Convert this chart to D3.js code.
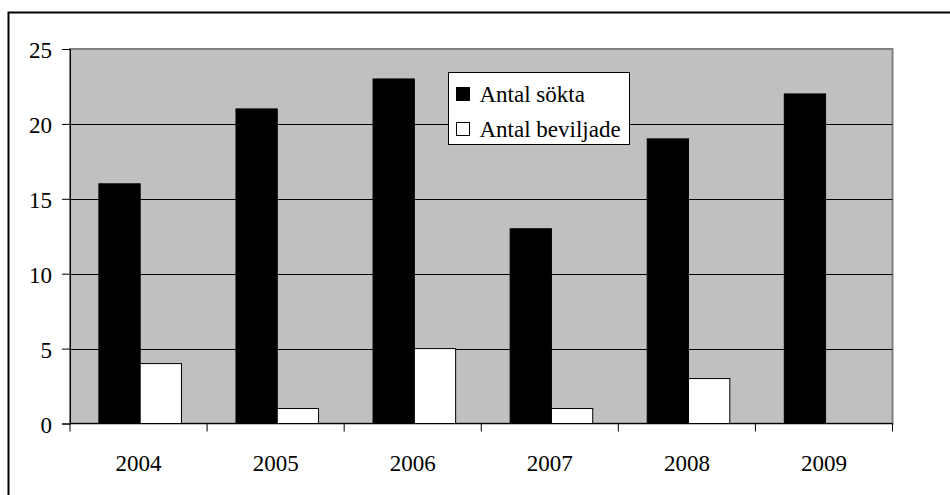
<!DOCTYPE html>
<meta charset="utf-8">
<style>
  body { margin: 0; background: #fff; }
</style>
<body>
<script src="https://d3js.org/d3.v7.min.js"></script>
<script>
var years = ['2004', '2005', '2006', '2007', '2008', '2009'];
var sokta = [16, 21, 23, 13, 19, 22];
var beviljade = [4, 1, 5, 1, 3, 0];
var seriesNames = ['Antal sökta', 'Antal beviljade'];
var seriesColors = ['#000000', '#ffffff'];
var yTicks = [0, 5, 10, 15, 20, 25];

var width = 950, height = 495;
var plot = {left: 70, right: 892.5, top: 49, bottom: 423.5};
var serif = "'Liberation Serif'";
var fontSize = 23;

var svg = d3.select('body').append('svg')
    .attr('width', width)
    .attr('height', height);

// outer frame
svg.append('rect')
    .attr('x', 8.5).attr('y', 12.5)
    .attr('width', width + 10).attr('height', height + 10)
    .attr('fill', '#fff')
    .attr('stroke', '#000')
    .attr('stroke-width', 2);

var x = d3.scaleBand()
    .domain(years)
    .range([plot.left, plot.right]);

var x1 = d3.scaleBand()
    .domain(seriesNames)
    .range([0, x.bandwidth()])
    .paddingOuter(0.66)
    .paddingInner(0)
    .align(0.53);

var y = d3.scaleLinear()
    .domain([0, 25])
    .range([plot.bottom, plot.top]);

// plot area
svg.append('rect')
    .attr('x', plot.left).attr('y', plot.top)
    .attr('width', plot.right - plot.left).attr('height', plot.bottom - plot.top)
    .attr('fill', '#c0c0c0')
    .attr('stroke', '#808080')
    .attr('stroke-width', 2);

// gridlines
svg.append('g')
    .selectAll('line')
    .data(yTicks.slice(1, -1))
    .enter().append('line')
    .attr('x1', plot.left).attr('x2', plot.right)
    .attr('y1', function (d) { return Math.round(y(d)) + 0.5; })
    .attr('y2', function (d) { return Math.round(y(d)) + 0.5; })
    .attr('stroke', '#000')
    .attr('stroke-width', 1);

// bars
var data = years.map(function (yr, i) {
    return {year: yr, values: [sokta[i], beviljade[i]]};
});

var groups = svg.append('g')
    .selectAll('g')
    .data(data)
    .enter().append('g')
    .attr('transform', function (d) { return 'translate(' + x(d.year) + ',0)'; });

groups.selectAll('rect')
    .data(function (d) {
        return d.values.map(function (v, j) { return {name: seriesNames[j], value: v, color: seriesColors[j]}; });
    })
    .enter().append('rect')
    .filter(function (d) { return d.value > 0; })
    .attr('x', function (d) { return x1(d.name); })
    .attr('y', function (d) { return y(d.value); })
    .attr('width', x1.bandwidth())
    .attr('height', function (d) { return y(0) - y(d.value); })
    .attr('fill', function (d) { return d.color; })
    .attr('stroke', '#000')
    .attr('stroke-width', 1);

// y axis
var yAxis = svg.append('g')
    .attr('transform', 'translate(' + plot.left + ',0)')
    .call(d3.axisLeft(y).tickValues(yTicks).tickSize(8).tickPadding(10));
yAxis.select('.domain').attr('stroke', '#000');
yAxis.selectAll('text')
    .attr('dy', '0.39em')
    .attr('font-family', serif)
    .attr('font-size', fontSize);

// x axis
var xAxis = svg.append('g')
    .attr('transform', 'translate(0,' + plot.bottom + ')');
xAxis.append('line')
    .attr('x1', plot.left).attr('x2', plot.right)
    .attr('stroke', '#000');
xAxis.selectAll('line.tick')
    .data(d3.range(years.length + 1))
    .enter().append('line')
    .attr('class', 'tick')
    .attr('x1', function (i) { return plot.left + i * x.step(); })
    .attr('x2', function (i) { return plot.left + i * x.step(); })
    .attr('y1', 0).attr('y2', 8)
    .attr('stroke', '#000');
xAxis.selectAll('text')
    .data(years)
    .enter().append('text')
    .attr('x', function (d) { return x(d) + x.bandwidth() / 2; })
    .attr('y', 47.5)
    .attr('text-anchor', 'middle')
    .attr('font-family', serif)
    .attr('font-size', fontSize)
    .text(function (d) { return d; });

// legend
var legend = svg.append('g')
    .attr('transform', 'translate(448.5,72.5)');
legend.append('rect')
    .attr('width', 181).attr('height', 72)
    .attr('fill', '#fff')
    .attr('stroke', '#000');
legend.selectAll('rect.key')
    .data(seriesNames)
    .enter().append('rect')
    .attr('class', 'key')
    .attr('x', 8)
    .attr('y', function (d, i) { return 15 + i * 35; })
    .attr('width', 13).attr('height', 13)
    .attr('fill', function (d, i) { return seriesColors[i]; })
    .attr('stroke', '#000');
legend.selectAll('text')
    .data(seriesNames)
    .enter().append('text')
    .attr('x', 31)
    .attr('y', function (d, i) { return 29 + i * 35; })
    .attr('font-family', serif)
    .attr('font-size', fontSize)
    .text(function (d) { return d; });
</script>
</body>
</html>
